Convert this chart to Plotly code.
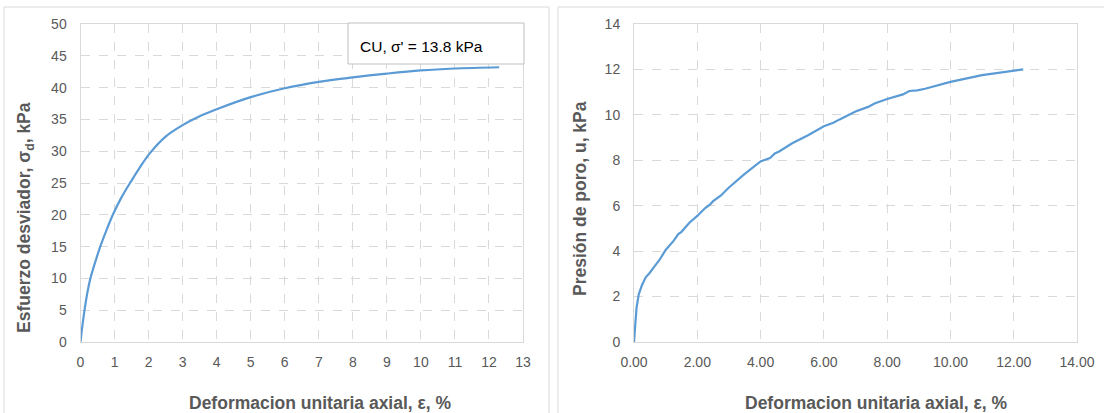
import plotly.graph_objects as go

# Left chart: deviator stress vs axial strain
eps_stress = [0, 0.05, 0.118, 0.2, 0.29, 0.4, 0.58, 0.75, 0.95, 1.2, 1.49, 1.75, 2.04, 2.5, 3.0, 3.5, 4.0,
              5.0, 6.0, 7.0, 8.0, 9.0, 10.0, 11.0, 12.3]
dev_stress = [0, 2.3, 5.0, 7.7, 10.0, 12.0, 15.0, 17.4, 20.0, 22.7, 25.3, 27.5, 29.7, 32.3, 34.1, 35.5, 36.6,
              38.5, 39.9, 40.9, 41.6, 42.2, 42.7, 43.0, 43.2]

# Right chart: pore pressure vs axial strain
eps_pore = [0, 0.03, 0.08, 0.15, 0.25, 0.37, 0.5, 0.66, 0.8, 1.0, 1.25, 1.4, 1.5, 1.75, 2.0, 2.25, 2.4, 2.5,
            2.75, 3.0, 3.5, 4.0, 4.3, 4.45, 4.6, 5.0, 5.5, 6.0, 6.3, 6.5, 7.0, 7.4, 7.6, 8.0, 8.5, 8.7, 8.95,
            9.2, 10.0, 11.0, 12.0, 12.3]
pore_u = [0, 0.8, 1.5, 2.1, 2.5, 2.85, 3.05, 3.35, 3.6, 4.05, 4.45, 4.75, 4.85, 5.25, 5.55, 5.9, 6.05, 6.2,
          6.45, 6.8, 7.4, 7.95, 8.1, 8.3, 8.4, 8.75, 9.1, 9.5, 9.65, 9.8, 10.15, 10.35, 10.5, 10.7, 10.9, 11.05, 11.08,
          11.15, 11.45, 11.75, 11.95, 12.0]

label_text = "CU, σ' = 13.8 kPa"
x_title = "Deformacion unitaria axial, ε, %"
y1_title = "Esfuerzo desviador, σ<sub>d</sub>, kPa"
y2_title = "Presión de poro, u, kPa"

W, H = 1104, 413
LINE = "#5b9bd5"
GRAY = "#595959"
GRID = "#d9d9d9"
FONT = "Liberation Sans, Arial, sans-serif"

def px(x):
    return x / W

def py(y):
    return (H - y) / H

fig = go.Figure()
fig.add_trace(go.Scatter(x=eps_stress, y=dev_stress, mode="lines", line=dict(color=LINE, width=2.2, shape="spline", smoothing=1.0),
                         xaxis="x", yaxis="y", showlegend=False))
fig.add_trace(go.Scatter(x=eps_pore, y=pore_u, mode="lines", line=dict(color=LINE, width=2.2),
                         xaxis="x2", yaxis="y2", showlegend=False))

common = dict(showline=True, mirror=True, linecolor=GRID, linewidth=1, showgrid=True, gridcolor=GRID,
              griddash="dash", gridwidth=1, zeroline=False, tickfont=dict(family=FONT, size=14, color=GRAY),
              ticks="outside", tickcolor="rgba(0,0,0,0)", fixedrange=True, automargin=False)

fig.update_layout(
    width=W, height=H, margin=dict(l=0, r=0, t=0, b=0, pad=0, autoexpand=False),
    paper_bgcolor="white", plot_bgcolor="white",
    xaxis=dict(domain=[px(80.5), px(523)], range=[0, 13], dtick=1, anchor="y", ticklen=7, **common),
    yaxis=dict(domain=[py(342), py(24)], range=[0, 50], dtick=5, anchor="x", ticklen=10, **common),
    xaxis2=dict(domain=[px(634), px(1077)], range=[0, 14], dtick=2, tickformat=".2f", anchor="y2", ticklen=7, **common),
    yaxis2=dict(domain=[py(342), py(24)], range=[0, 14], dtick=2, anchor="x2", ticklen=10, **common),
)

shapes = [
    dict(type="rect", xref="paper", yref="paper", x0=px(4), x1=px(549), y0=py(420), y1=py(7),
         line=dict(color=GRID, width=1), fillcolor="rgba(0,0,0,0)", layer="below"),
    dict(type="rect", xref="paper", yref="paper", x0=px(558), x1=px(1110), y0=py(420), y1=py(7),
         line=dict(color=GRID, width=1), fillcolor="rgba(0,0,0,0)", layer="below"),
    dict(type="rect", xref="paper", yref="paper", x0=px(348), x1=px(524), y0=py(64), y1=py(23),
         line=dict(color="#bfbfbf", width=1), fillcolor="white", layer="above"),
]
fig.update_layout(shapes=shapes)

title_font = dict(family=FONT, size=17.5, color=GRAY)
annotations = [
    dict(text="<b>" + x_title + "</b>", xref="paper", yref="paper", x=px(320), y=py(403), showarrow=False,
         xanchor="center", yanchor="middle", font=title_font),
    dict(text="<b>" + x_title + "</b>", xref="paper", yref="paper", x=px(876), y=py(403), showarrow=False,
         xanchor="center", yanchor="middle", font=title_font),
    dict(text="<b>" + y1_title + "</b>", xref="paper", yref="paper", x=px(26), y=py(218), showarrow=False,
         xanchor="center", yanchor="middle", textangle=-90, font=title_font),
    dict(text="<b>" + y2_title + "</b>", xref="paper", yref="paper", x=px(580), y=py(199), showarrow=False,
         xanchor="center", yanchor="middle", textangle=-90, font=title_font),
    dict(text=label_text, xref="paper", yref="paper", x=px(358), y=py(46), showarrow=False,
         xanchor="left", yanchor="middle", font=dict(family="Liberation Sans Narrow, Liberation Sans, Arial", size=15.5, color="black")),
]
fig.update_layout(annotations=annotations)

fig.write_html("out.html", config={"displayModeBar": False},
               post_script="document.body.style.margin='0';document.body.style.overflow='hidden';")
